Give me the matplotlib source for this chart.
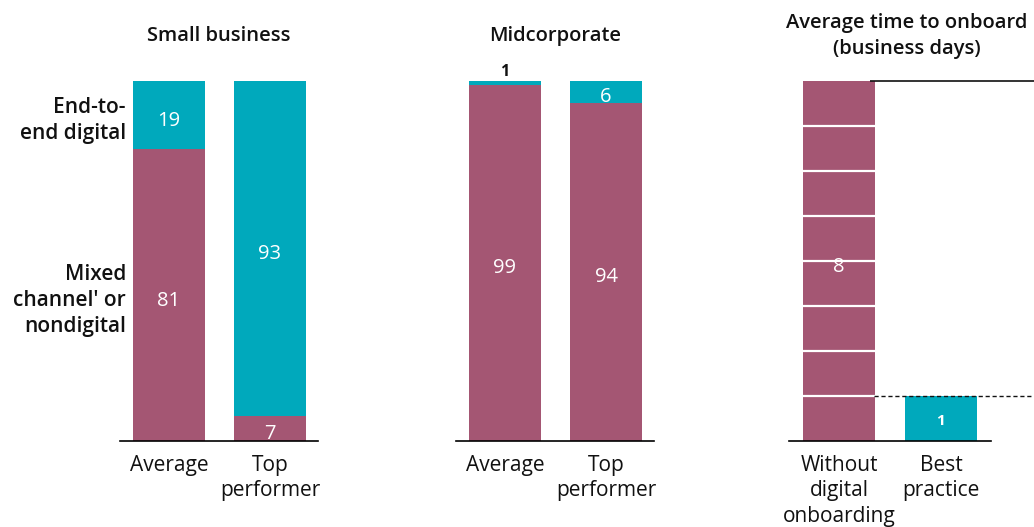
import numpy as np
import matplotlib.pyplot as plt

plt.rcParams['font.family'] = ['Open Sans', 'DejaVu Sans']

# colours
PURPLE = '#A45673'
TEAL = '#00A9BC'
INK = '#111111'

# data
groups = ['Average', 'Top\nperformer']
small_mixed = [81, 7]
small_digital = [19, 93]
mid_mixed = [99, 94]
mid_digital = [1, 6]
onboard_labels = ['Without\ndigital\nonboarding', 'Best\npractice']
onboard_days = [8, 1]

W, H = 1034, 527
fig = plt.figure(figsize=(W / 100, H / 100), dpi=100)


def px_axes(x0, x1, y_top, y_bot):
    # axes from pixel box
    return fig.add_axes([x0 / W, 1 - y_bot / H, (x1 - x0) / W, (y_bot - y_top) / H])


def value(ax, x, y, s, color='white', size=14.5, weight='normal', dy=-4, va='center'):
    # label nudged a few points down, like the original
    ax.annotate(s, (x, y), xytext=(0, dy), textcoords='offset points', color=color,
                ha='center', va=va, fontsize=size, fontweight=weight)


def style(ax, labels, xlim, base_right):
    ax.set_xlim(*xlim)
    for s in ['top', 'right', 'left']:
        ax.spines[s].set_visible(False)
    ax.spines['bottom'].set_bounds(xlim[0], base_right)
    ax.spines['bottom'].set_linewidth(1.2)
    ax.set_yticks([])
    ax.set_xticks(range(len(labels)))
    ax.set_xticklabels(labels, fontsize=15, linespacing=1.27, color=INK)
    ax.tick_params(axis='x', length=0, pad=10)


def stacked(ax, title, mixed, digital):
    x = np.arange(len(mixed))
    ax.bar(x, mixed, width=0.71, color=PURPLE)
    ax.bar(x, digital, bottom=mixed, width=0.71, color=TEAL)
    ax.set_ylim(0, 100)
    for i in x:
        value(ax, i, mixed[i] / 2, str(mixed[i]))
        if digital[i] < 3:
            value(ax, i, 100, str(digital[i]), color=INK, size=11.5, weight='bold',
                  dy=1, va='bottom')
        else:
            value(ax, i, mixed[i] + digital[i] / 2, str(digital[i]))
    ax.text(0.5, 1.125, title, transform=ax.transAxes, ha='center', va='center',
            fontsize=14.5, fontweight='semibold', color=INK)
    style(ax, groups, (-0.485, 1.475), 1.475)


# Small business
ax1 = px_axes(120, 318, 81, 441)
stacked(ax1, 'Small business', small_mixed, small_digital)
tr = ax1.get_yaxis_transform()
ax1.annotate('End-to-\nend digital', (0.03, small_mixed[0] + small_digital[0] / 2),
             xycoords=tr, xytext=(0, -4), textcoords='offset points', ha='right',
             va='center', fontsize=15, fontweight='semibold', linespacing=1.3, color=INK)
ax1.annotate("Mixed\nchannel' or\nnondigital", (0.03, small_mixed[0] / 2),
             xycoords=tr, xytext=(0, -4), textcoords='offset points', ha='right',
             va='center', fontsize=15, fontweight='semibold', linespacing=1.3, color=INK)

# Midcorporate
ax2 = px_axes(456, 654, 81, 441)
stacked(ax2, 'Midcorporate', mid_mixed, mid_digital)

# Average time to onboard
ax3 = px_axes(789, 1034, 81, 441)
ax3.set_ylim(0, onboard_days[0])
ax3.bar(0, onboard_days[0], width=0.71, color=PURPLE)
ax3.hlines(np.arange(1, onboard_days[0]), -0.355, 0.355, color='white', lw=1.6)
ax3.bar(1, onboard_days[1], width=0.71, color=TEAL)
value(ax3, 0, onboard_days[0] / 2, str(onboard_days[0]))
value(ax3, 1, onboard_days[1] / 2, str(onboard_days[1]), size=11, weight='bold', dy=-2)
xr = (1034 - 839) / 102
ax3.hlines(onboard_days[0], 0.3, xr, color=INK, lw=1.2, clip_on=False)
ax3.hlines(onboard_days[1], 0.34, xr, color=INK, lw=1, linestyles=(0, (3, 2)))
ax3.text(0.482, 1.125, 'Average time to onboard\n(business days)', transform=ax3.transAxes,
         ha='center', va='center', fontsize=14.5, fontweight='semibold', linespacing=1.35,
         color=INK)
style(ax3, onboard_labels, (-0.49, xr), 1.49)

fig.savefig('out.png', dpi=100)
